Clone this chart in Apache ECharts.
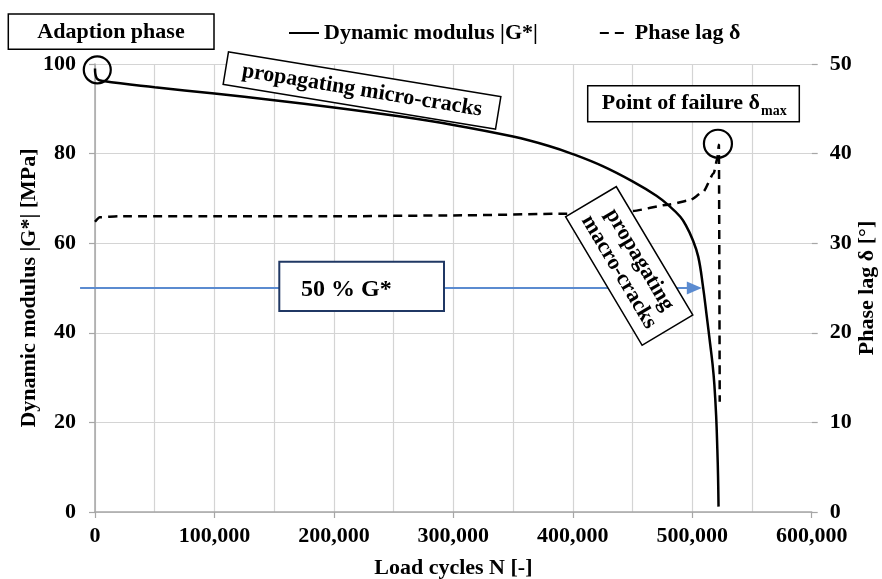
<!DOCTYPE html>
<html>
<head>
<meta charset="utf-8">
<script src="https://cdn.jsdelivr.net/npm/echarts@6/dist/echarts.min.js"></script>
<style>
html,body{margin:0;padding:0;background:#fff;overflow:hidden;}
#chart{width:882px;height:579px;}
</style>
</head>
<body>
<div id="chart"></div>
<script>
// ---- data ----
const gN   = [0, 1500, 7000, 50000, 100000, 150000, 200000, 250000, 300000, 350000, 380000, 400000, 425000, 450000, 470000, 480000, 490000, 495000, 500000, 505000, 509000, 512000, 515000, 517000, 518500, 520000, 521000, 521600, 522000];
const gVal = [99, 96.8, 96.2, 94.8, 93.4, 91.9, 90.3, 88.5, 86.4, 83.8, 81.7, 79.9, 77.2, 73.8, 70.6, 68.5, 65.9, 63.8, 61.0, 57.0, 50.3, 44.0, 37.5, 33.0, 28.5, 21.5, 14.0, 8.0, 1.2];
const dN   = [0, 4000, 20000, 100000, 200000, 300000, 400000, 450000, 480000, 498000, 509000, 518000, 521000, 522300, 523000];
const dVal = [32.4, 32.9, 33.0, 33.0, 33.0, 33.1, 33.3, 33.6, 34.3, 34.8, 35.7, 37.8, 39.5, 41.0, 12.3];
const arrowN = [-12500, 508000];
const arrowVal = [50, 50];
const seriesNames = ['Dynamic modulus |G*|', 'Phase lag δ'];
const xTitle = 'Load cycles N [-]';
const yLeftTitle = 'Dynamic modulus |G*| [MPa]';
const yRightTitle = 'Phase lag δ [°]';
const adaptionPoint = [1900, 98.7];
const failurePoint = [521500, 41.1];

const FF = 'Liberation Serif';
const font = {fontFamily: FF, fontWeight: 'bold', fontSize: 22, color: '#000'};
const zip = (a, b) => a.map((v, i) => [v, b[i]]);
const fmt = v => String(v).replace(/\B(?=(\d{3})+(?!\d))/g, ',');

const chart = echarts.init(document.getElementById('chart'), null, {renderer: 'canvas'});
const option = {
  animation: false,
  backgroundColor: '#ffffff',
  grid: {left: 95, right: 70.3, top: 64, bottom: 67, containLabel: false, outerBoundsMode: 'none'},
  legend: {
    left: 283, top: 17, itemWidth: 30, itemHeight: 14, itemGap: 61,
    itemStyle: {opacity: 0},
    textStyle: Object.assign({}, font),
    data: seriesNames
  },
  xAxis: {
    type: 'value', min: 0, max: 600000, interval: 100000,
    axisLine: {show: true, lineStyle: {color: '#a6a6a6', width: 1.5}},
    axisTick: {show: true, length: 6, lineStyle: {color: '#a6a6a6', width: 1.2}},
    axisLabel: Object.assign({margin: 13, formatter: fmt}, font),
    splitLine: {show: true, showMaxLine: false, lineStyle: {color: '#d4d4d4', width: 1.2}},
    minorTick: {show: false, splitNumber: 2},
    minorSplitLine: {show: true, lineStyle: {color: '#d4d4d4', width: 1.2}},
    name: xTitle, nameLocation: 'middle', nameGap: 45, nameMoveOverlap: false,
    nameTextStyle: Object.assign({}, font)
  },
  yAxis: [
    {
      type: 'value', min: 0, max: 100, interval: 20, position: 'left',
      axisLine: {show: true, lineStyle: {color: '#a6a6a6', width: 1.5}},
      axisTick: {show: true, length: 6, lineStyle: {color: '#a6a6a6', width: 1.2}},
      axisLabel: Object.assign({margin: 19}, font),
      splitLine: {show: true, lineStyle: {color: '#d4d4d4', width: 1.2}},
      name: yLeftTitle, nameLocation: 'middle', nameGap: 55, nameRotate: 90, nameMoveOverlap: false,
      nameTextStyle: Object.assign({}, font)
    },
    {
      type: 'value', min: 0, max: 50, interval: 10, position: 'right',
      axisLine: {show: false},
      axisTick: {show: true, length: 6, lineStyle: {color: '#a6a6a6', width: 1.2}},
      axisLabel: Object.assign({margin: 18}, font),
      splitLine: {show: false},
      name: yRightTitle, nameLocation: 'middle', nameGap: 45, nameRotate: 90, nameMoveOverlap: false,
      nameTextStyle: Object.assign({}, font)
    }
  ],
  series: [
    {
      name: seriesNames[0], type: 'line', xAxisIndex: 0, yAxisIndex: 0,
      data: zip(gN, gVal), symbol: 'none', smooth: 0.4,
      lineStyle: {color: '#000', width: 2.5}, itemStyle: {color: '#000'}, z: 5
    },
    {
      name: seriesNames[1], type: 'line', xAxisIndex: 0, yAxisIndex: 1,
      data: zip(dN, dVal), symbol: 'none', smooth: 0.2, smoothMonotone: 'x',
      lineStyle: {color: '#000', width: 2.5, type: [9, 6]}, itemStyle: {color: '#000'}, z: 5
    }
  ]
};
chart.setOption(option);

const px = (p, yi) => chart.convertToPixel({xAxisIndex: 0, yAxisIndex: yi}, p);
const c1 = px(adaptionPoint, 0);
const c2 = px(failurePoint, 1);
const a0 = px([arrowN[0], arrowVal[0]], 0);
const a1 = px([arrowN[1], arrowVal[1]], 0);
const boxStroke = {stroke: '#000', lineWidth: 1.5, fill: '#fff'};
const BLUE = '#5b8bd0';
chart.setOption({
  graphic: [
    // blue 50 % arrow
    {type: 'line', shape: {x1: a0[0], y1: a0[1], x2: a1[0] - 12, y2: a1[1]}, style: {stroke: BLUE, lineWidth: 2}, z: 4},
    {type: 'polygon', shape: {points: [[a1[0], a1[1]], [a1[0] - 15, a1[1] - 6.5], [a1[0] - 15, a1[1] + 6.5]]}, style: {fill: BLUE}, z: 4},
    // Adaption phase
    {type: 'rect', shape: {x: 8.3, y: 14, width: 205.7, height: 35.3}, style: boxStroke, z: 20},
    {type: 'text', x: 111, y: 32, style: {text: 'Adaption phase', font: 'bold 22px "' + FF + '"', fill: '#000', align: 'center', verticalAlign: 'middle'}, z: 21},
    {type: 'circle', shape: {cx: c1[0], cy: c1[1], r: 13.5}, style: {stroke: '#000', lineWidth: 2.2, fill: null}, z: 20},
    // propagating micro-cracks
    {type: 'group', x: 362, y: 90.5, rotation: -9.3 * Math.PI / 180, z: 20, children: [
      {type: 'rect', shape: {x: -138, y: -16.5, width: 276, height: 33}, style: boxStroke, z: 20},
      {type: 'text', x: 0, y: 0, style: {text: 'propagating micro-cracks', font: 'bold 22px "' + FF + '"', fill: '#000', align: 'center', verticalAlign: 'middle'}, z: 21}
    ]},
    // Point of failure
    {type: 'rect', shape: {x: 587.7, y: 85.7, width: 211.6, height: 36}, style: boxStroke, z: 20},
    {type: 'text', x: 601.7, y: 103, style: {text: 'Point of failure δ', font: 'bold 22px "' + FF + '"', fill: '#000', align: 'left', verticalAlign: 'middle'}, z: 21},
    {type: 'text', x: 761, y: 111, style: {text: 'max', font: 'bold 14px "' + FF + '"', fill: '#000', align: 'left', verticalAlign: 'middle'}, z: 21},
    {type: 'circle', shape: {cx: c2[0], cy: c2[1], r: 14}, style: {stroke: '#000', lineWidth: 2.2, fill: null}, z: 20},
    // propagating macro-cracks
    {type: 'group', x: 629.2, y: 265.9, rotation: -59.2 * Math.PI / 180, z: 20, children: [
      {type: 'rect', shape: {x: -74.7, y: -29.5, width: 149.4, height: 59}, style: boxStroke, z: 20},
      {type: 'text', x: 0, y: 0, style: {text: 'propagating\nmacro-cracks', font: 'bold 22px "' + FF + '"', lineHeight: 24, fill: '#000', align: 'center', verticalAlign: 'middle'}, z: 21}
    ]},
    // 50 % G*
    {type: 'rect', shape: {x: 279.3, y: 261.7, width: 164.7, height: 49.3}, style: {stroke: '#203864', lineWidth: 2, fill: '#fff'}, z: 20},
    {type: 'text', x: 301, y: 290, style: {text: '50 % G*', font: 'bold 24px "' + FF + '"', fill: '#000', align: 'left', verticalAlign: 'middle'}, z: 21}
  ]
});
</script>
</body>
</html>
